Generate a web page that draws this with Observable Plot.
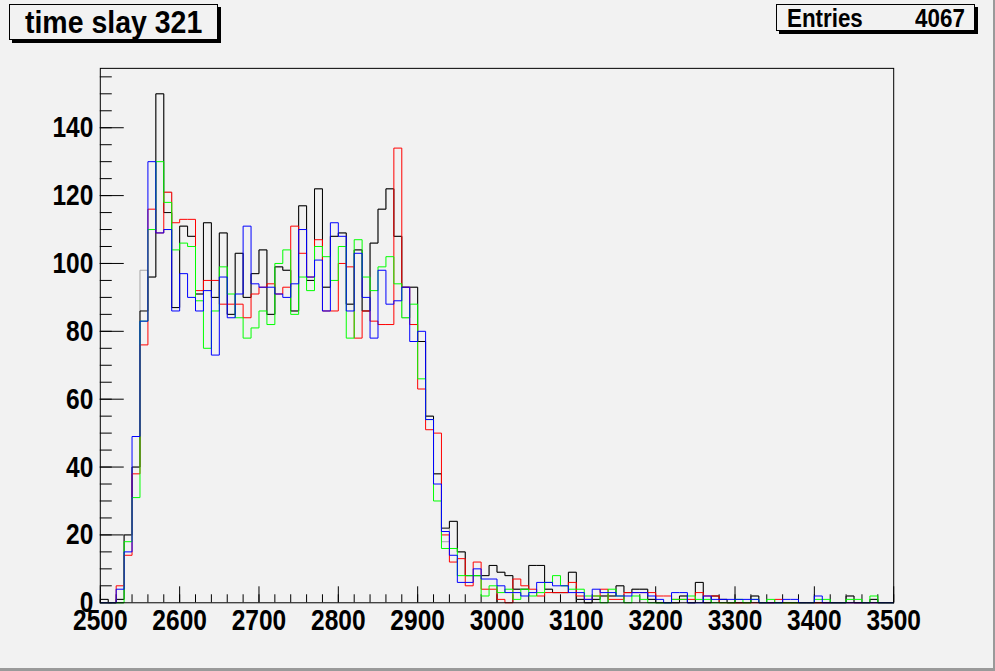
<!DOCTYPE html>
<html><head><meta charset="utf-8">
<script src="https://cdn.jsdelivr.net/npm/d3@7"></script>
<script src="https://cdn.jsdelivr.net/npm/@observablehq/plot@0.6"></script>
<style>
body{margin:0;background:#f2f2f2;}
#wrap{position:relative;width:995px;height:671px;background:#f2f2f2;overflow:hidden;box-sizing:border-box;border-right:2px solid #9a9a9a;border-bottom:3px solid #9a9a9a;}
.box{position:absolute;box-sizing:border-box;background:#f2f2f2;border:1px solid #000;box-shadow:3px 3px 0 #000;font-family:"Liberation Sans",Arial,sans-serif;font-weight:bold;white-space:nowrap;}
.cond{display:inline-block;}
</style></head><body><div id="wrap"></div>
<script>
const titleText = "time slay 321";
const statLabel = "Entries";
const statValue = "4067";
const xMin = 2500, xMax = 3500, binWidth = 10, yMax = 157.5;
const xLabels = [2500,2600,2700,2800,2900,3000,3100,3200,3300,3400,3500];
const yLabels = [0,20,40,60,80,100,120,140];

const black = [
1,0,1,20,40,86,96,150,115,87,
111,108,91,112,90,109,85,103,90,97,
104,85,99,98,86,117,95,122,93,108,
109,88,104,86,106,116,122,108,93,93,
77,55,38,22,24,15,8,8,8,11,
9,8,4,4,11,11,4,3,3,9,
1,0,1,2,2,5,3,4,4,1,
0,0,0,2,0,6,0,2,1,0,
0,0,2,0,0,0,0,0,0,0,
0,0,0,0,2,0,0,1,0,0];
const gray = [
1,0,1,20,40,98,96,150,121,87,
111,108,91,112,90,109,85,103,90,97,
104,85,99,98,86,117,95,122,93,108,
109,88,104,86,106,116,122,108,84,93,
77,55,38,18,24,15,8,8,8,11,
9,8,4,4,11,11,4,3,3,9,
1,0,1,2,2,5,3,4,4,1,
0,0,0,2,0,6,0,2,1,0,
0,0,2,0,0,0,0,0,0,0,
0,0,0,0,2,0,0,1,0,0];
const red = [
0,0,5,14,38,76,116,109,121,112,
113,113,92,95,95,88,88,88,84,91,
93,94,91,93,111,103,96,107,86,86,
100,99,78,86,83,82,82,134,93,82,
63,51,50,20,12,13,5,12,4,4,
1,0,7,5,4,2,3,3,3,6,
2,1,2,4,1,1,3,3,3,3,
2,2,1,1,1,3,2,2,0,0,
0,0,0,0,0,1,0,0,0,0,
0,0,0,0,0,0,0,0,0,0];
const green = [
0,0,0,18,31,83,110,130,118,104,
106,105,89,75,86,99,91,84,78,81,
86,82,100,104,85,96,92,105,102,95,
105,78,107,96,92,99,102,94,84,88,
66,54,30,16,16,8,8,8,2,5,
3,4,1,4,2,3,6,8,5,4,
4,2,2,0,4,2,0,2,1,0,
0,0,1,1,2,1,1,0,0,0,
1,0,1,0,1,0,0,0,0,0,
1,1,0,0,1,1,0,2,0,0];
const blue = [
0,0,4,15,49,83,130,109,110,86,
97,90,86,92,73,96,84,91,111,94,
93,93,91,90,94,110,96,101,86,112,
108,86,103,90,78,98,88,89,93,77,
80,54,35,21,14,6,6,10,7,7,
5,3,3,2,3,6,6,5,5,3,
3,1,4,3,3,2,2,3,3,2,
1,0,3,3,0,0,2,1,1,1,
1,1,1,0,0,0,1,1,0,0,
2,0,0,0,0,0,0,0,0,0];

const series = [
  {name: "gray", values: gray, color: "#a6a6a6"},
  {name: "black", values: black, color: "#000000"},
  {name: "red", values: red, color: "#ff0000"},
  {name: "green", values: green, color: "#00ff00"},
  {name: "blue", values: blue, color: "#0000ff"}
];

function outline(values) {
  const pts = [{x: xMin, y: 0}];
  values.forEach((v, i) => pts.push({x: xMin + i * binWidth, y: v}));
  pts.push({x: xMin + values.length * binWidth, y: values[values.length - 1]});
  pts.push({x: xMin + values.length * binWidth, y: 0});
  return pts;
}

const W = 995, H = 671, mL = 100, mR = 100, mT = 68, mB = 67.5;
const unitsPerPxX = (xMax - xMin) / (W - mL - mR);
const unitsPerPxY = yMax / (H - mT - mB);

const xMinor = d3.range(xMin, xMax + 1, 20);
const xMajor = d3.range(xMin, xMax + 1, 100);
const yMinor = d3.range(0, yMax, 5);
const yMajor = d3.range(0, yMax, 20);

const font = "Liberation Sans, Arial, sans-serif";

const chart = Plot.plot({
  width: W, height: H,
  marginLeft: mL, marginRight: mR, marginTop: mT, marginBottom: mB,
  style: {background: "transparent", fontFamily: font, overflow: "visible"},
  x: {domain: [xMin, xMax]},
  y: {domain: [0, yMax]},
  marks: [
    Plot.ruleX(xMinor, {x: d => d, y1: 0, y2: 8 * unitsPerPxY, stroke: "#000"}),
    Plot.ruleX(xMajor, {x: d => d, y1: 0, y2: 16 * unitsPerPxY, stroke: "#000"}),
    Plot.ruleY(yMinor, {y: d => d, x1: xMin, x2: xMin + 12 * unitsPerPxX, stroke: "#000"}),
    Plot.ruleY(yMajor, {y: d => d, x1: xMin, x2: xMin + 24 * unitsPerPxX, stroke: "#000"}),
    ...series.map(s => Plot.line(outline(s.values), {x: "x", y: "y", curve: "step-after", stroke: s.color, strokeWidth: 1})),
    Plot.frame({stroke: "#000"}),
    Plot.axisX({ticks: xLabels, tickSize: 0, tickPadding: 6, tickFormat: d => String(d), fontSize: 30, fontWeight: "bold", fill: "#000", label: null}),
    Plot.axisY({ticks: yLabels, tickSize: 0, tickPadding: 7, tickFormat: d => String(d), fontSize: 30, fontWeight: "bold", fill: "#000", label: null})
  ]
});

chart.querySelectorAll('g[aria-label="x-axis tick label"] text, g[aria-label="y-axis tick label"] text').forEach(t => {
  const x = +t.getAttribute('x') || 0;
  const tr = t.getAttribute('transform') || '';
  t.setAttribute('transform', `${tr} translate(${x},0) scale(0.82,1) translate(${-x},0)`);
});

const wrap = document.getElementById('wrap');
wrap.appendChild(chart);
chart.style.position = "absolute";
chart.style.left = "0px";
chart.style.top = "0px";

const tbox = document.createElement('div');
tbox.className = 'box';
Object.assign(tbox.style, {left: "9px", top: "4px", width: "209px", height: "36px", fontSize: "32px", lineHeight: "34px", textAlign: "center"});
tbox.innerHTML = `<span class="cond" style="transform:scaleX(0.89);transform-origin:center center">${titleText}</span>`;
wrap.appendChild(tbox);

const sbox = document.createElement('div');
sbox.className = 'box';
Object.assign(sbox.style, {left: "776px", top: "4px", width: "199px", height: "27px", fontSize: "26px", lineHeight: "26px"});
sbox.innerHTML = `<span class="cond" style="position:absolute;left:10px;transform:scaleX(0.86);transform-origin:left center">${statLabel}</span><span class="cond" style="position:absolute;right:9px;transform:scaleX(0.86);transform-origin:right center">${statValue}</span>`;
wrap.appendChild(sbox);
</script>
</body></html>
